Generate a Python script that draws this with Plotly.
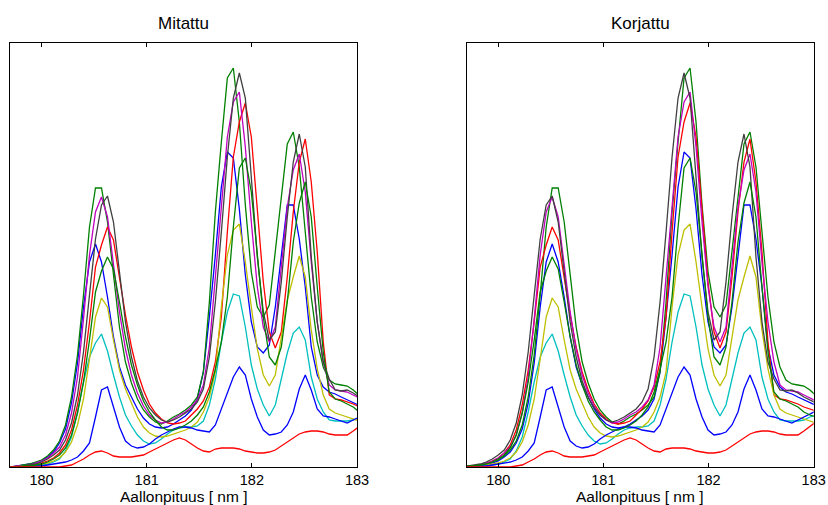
import numpy as np
import plotly.graph_objects as go

# Sampling grid of the spectrometer (nm); sample 0 sits at 180 nm
STEP_NM = 0.057
sample_index = np.arange(-7, 56)
wavelength = np.round(180.0 + STEP_NM * sample_index, 4)

# Measured spectra (arbitrary intensity units), one value per sample
spec_blue_a = [0, 0, 0, 1, 2, 3, 4,
               6, 10, 15, 24, 38, 64, 104, 160, 205, 223,
               205, 170, 130, 100, 82, 70, 58, 49, 43, 40,
               39, 40, 43, 47, 51, 57, 68, 95, 150, 212,
               280, 315, 309, 258, 192, 145, 120, 114, 122, 160,
               214, 262, 262, 228, 180, 120, 92, 80, 75, 73,
               70, 67, 64, 61, 58, 56]
spec_green_a = [0, 0, 0, 1, 2, 3, 5,
                7, 11, 17, 26, 42, 70, 112, 172, 240, 279,
                279, 245, 190, 140, 105, 84, 68, 57, 50, 45,
                43, 46, 50, 53, 57, 62, 70, 95, 165, 255,
                325, 389, 399, 345, 262, 195, 160, 150, 162, 214,
                272, 323, 335, 300, 235, 170, 125, 100, 87, 83,
                82, 81, 77, 71, 66, 62]
spec_red_a = [0, 0, 0, 0, 1, 1, 2,
              4, 6, 9, 14, 22, 37, 62, 97, 145, 200,
              222, 240, 227, 190, 152, 120, 95, 77, 63, 54,
              48, 44, 43, 44, 46, 52, 58, 66, 80, 105,
              150, 235, 310, 345, 364, 330, 255, 185, 135, 119,
              135, 190, 255, 305, 328, 285, 215, 125, 72, 68,
              67, 65, 63, 60, 58, 56]
spec_cyan = [0, 0, 0, 0, 0, 1, 1,
             2, 3, 5, 8, 16, 30, 55, 85, 110, 124,
             133, 116, 92, 70, 52, 41, 32, 26, 23, 24,
             28, 33, 37, 39, 40, 40, 41, 46, 62, 88,
             125, 155, 173, 171, 140, 102, 78, 62, 51, 62,
             88, 114, 134, 140, 127, 90, 68, 55, 47, 46,
             46, 46, 47, 50, 52, 54]
spec_magenta = [0, 0, 0, 1, 1, 2, 4,
                6, 9, 14, 20, 32, 54, 90, 148, 212, 255,
                270, 250, 205, 155, 118, 92, 74, 61, 52, 47,
                44, 45, 48, 52, 55, 60, 67, 82, 120, 190,
                265, 330, 365, 375, 320, 245, 180, 140, 125, 140,
                200, 260, 297, 313, 275, 205, 145, 105, 82, 77,
                76, 75, 72, 69, 66, 63]
spec_yellow = [0, 0, 0, 0, 1, 1, 2,
               3, 4, 6, 9, 15, 25, 42, 68, 108, 150,
               169, 160, 127, 97, 78, 63, 50, 40, 34, 31,
               30, 31, 33, 35, 37, 40, 45, 55, 70, 95,
               160, 212, 237, 243, 205, 160, 118, 92, 81, 92,
               130, 167, 190, 211, 190, 137, 98, 72, 58, 54,
               52, 50, 48, 46, 44, 42]
spec_gray = [0, 0, 0, 0, 1, 2, 3,
             5, 8, 12, 17, 27, 44, 72, 115, 172, 228,
             262, 271, 245, 195, 145, 110, 86, 70, 59, 52,
             47, 45, 47, 50, 54, 58, 65, 78, 110, 165,
             235, 310, 369, 394, 369, 290, 210, 155, 127, 135,
             185, 250, 305, 333, 300, 210, 145, 105, 88, 77,
             76, 77, 74, 70, 67, 64]
spec_blue_b = [0, 0, 0, 0, 0, 0, 1,
               1, 2, 3, 4, 5, 7, 10, 16, 24, 50,
               77, 80, 60, 40, 26, 21, 19, 20, 23, 28,
               32, 35, 38, 40, 40, 39, 37, 36, 35, 42,
               58, 72, 90, 100, 92, 68, 50, 37, 32, 33,
               35, 42, 55, 78, 92, 77, 58, 51, 50, 48,
               46, 44, 47, 50, 53, 56]
spec_green_b = [0, 0, 0, 0, 1, 1, 2,
                3, 5, 8, 12, 19, 32, 54, 85, 127, 175,
                196, 210, 198, 165, 130, 102, 82, 66, 55, 47,
                40, 37, 37, 39, 42, 46, 52, 60, 75, 98,
                125, 170, 240, 299, 309, 275, 210, 150, 110, 102,
                120, 165, 225, 264, 285, 250, 180, 115, 75, 68,
                66, 63, 60, 55, 52, 50]
spec_red_b = [0, 0, 0, 0, 0, 0, 0,
              0, 0, 0, 0, 1, 2, 5, 8, 12, 15,
              16, 14, 11, 10, 10, 10, 11, 12, 15, 18,
              21, 24, 27, 29, 27, 23, 19, 16, 15, 18,
              19, 19, 19, 18, 16, 15, 14, 14, 15, 17,
              21, 25, 29, 33, 35, 36, 36, 35, 33, 32,
              32, 32, 36, 41, 45, 48]

# Plot order and MATLAB-style line colours
spectra = [spec_blue_a, spec_green_a, spec_red_a, spec_cyan, spec_magenta,
           spec_yellow, spec_gray, spec_blue_b, spec_green_b, spec_red_b]
colors = ["#0000FF", "#008000", "#FF0000", "#00BFBF", "#BF00BF",
          "#BFBF00", "#404040", "#0000FF", "#008000", "#FF0000"]
# Wavelength correction of each spectrum, in whole samples
shift_samples = [0, 0, -2, -1, -1, -1, -2, -2, -2, -1]

panel_titles = ["Mitattu", "Korjattu"]
x_label = "Aallonpituus [ nm ]"
x_ticks = [180, 181, 182, 183]

W, H = 828, 505
fig = go.Figure()

for spec, col, sh in zip(spectra, colors, shift_samples):
    fig.add_trace(go.Scatter(x=wavelength, y=spec, mode="lines",
                             line=dict(color=col, width=1.3),
                             xaxis="x", yaxis="y", hoverinfo="skip"))
    fig.add_trace(go.Scatter(x=np.round(wavelength + sh * STEP_NM, 4), y=spec,
                             mode="lines", line=dict(color=col, width=1.3),
                             xaxis="x2", yaxis="y2", hoverinfo="skip"))

font_family = "Liberation Sans, Arial, Helvetica, sans-serif"
x_dom = [(10 / W, 357 / W), (466.7 / W, 813.7 / W)]
y_dom = (38 / H, 462 / H)

xaxis_common = dict(range=[179.7, 183.0], tickvals=x_ticks, ticks="inside",
                    ticklen=4, tickcolor="black", tickwidth=1,
                    showline=True, linecolor="black", linewidth=1,
                    mirror="ticks", showgrid=False, zeroline=False,
                    automargin=False,
                    tickfont=dict(family=font_family, size=14.5, color="black"))
yaxis_common = dict(range=[0, 424], showticklabels=False, ticks="",
                    showline=True, linecolor="black", linewidth=1,
                    mirror=True, showgrid=False, zeroline=False,
                    automargin=False)

annotations = []
for i, dom in enumerate(x_dom):
    cx = (dom[0] + dom[1]) / 2
    annotations.append(dict(text=panel_titles[i], x=cx, y=(H - 23) / H,
                            xref="paper", yref="paper", showarrow=False,
                            xanchor="center", yanchor="middle",
                            font=dict(family=font_family, size=17, color="black")))
    annotations.append(dict(text=x_label, x=cx, y=(H - 496.5) / H,
                            xref="paper", yref="paper", showarrow=False,
                            xanchor="center", yanchor="middle",
                            font=dict(family=font_family, size=15.5, color="black")))

fig.update_layout(
    width=W, height=H, autosize=False,
    margin=dict(l=0, r=0, t=0, b=0, pad=0),
    paper_bgcolor="white", plot_bgcolor="white",
    showlegend=False,
    xaxis=dict(domain=list(x_dom[0]), anchor="y", **xaxis_common),
    yaxis=dict(domain=list(y_dom), anchor="x", **yaxis_common),
    xaxis2=dict(domain=list(x_dom[1]), anchor="y2", **xaxis_common),
    yaxis2=dict(domain=list(y_dom), anchor="x2", **yaxis_common),
    annotations=annotations,
)

fig.write_html("out.html", config={"displayModeBar": False, "responsive": False})
